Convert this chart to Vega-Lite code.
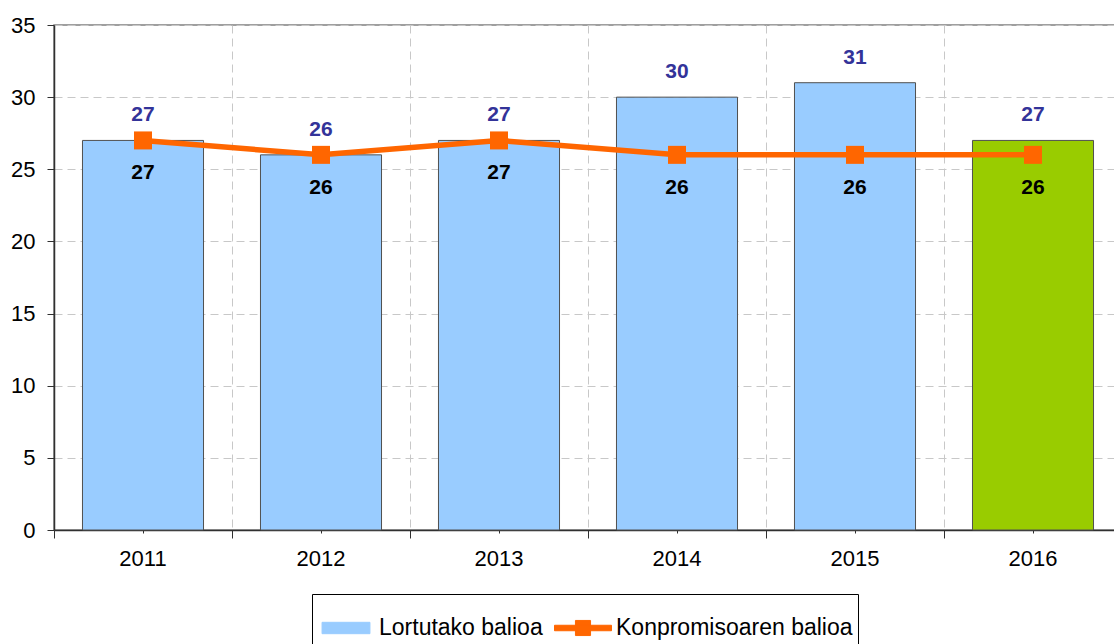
{
  "$schema": "https://vega.github.io/schema/vega-lite/v6.json",
  "autosize": "none",
  "width": 1068,
  "height": 505,
  "padding": {"left": 54, "top": 25, "right": 0, "bottom": 114},
  "background": "white",
  "config": {
    "view": {"stroke": "#808080", "strokeWidth": 1.5},
    "font": "Liberation Sans"
  },
  "data": {
    "values": [
      {"year": "2011", "actual": 27, "target": 27},
      {"year": "2012", "actual": 26, "target": 26},
      {"year": "2013", "actual": 27, "target": 27},
      {"year": "2014", "actual": 30, "target": 26},
      {"year": "2015", "actual": 31, "target": 26},
      {"year": "2016", "actual": 27, "target": 26}
    ]
  },
  "resolve": {"axis": {"x": "independent"}},
  "layer": [
    {
      "mark": {"type": "bar", "width": {"band": 0.68}, "stroke": "#505050", "strokeWidth": 1},
      "encoding": {
        "x": {
          "field": "year", "type": "ordinal",
          "scale": {"type": "band", "paddingInner": 0, "paddingOuter": 0},
          "axis": {"orient": "bottom", "title": null, "labelAngle": 0, "labelFont": "Liberation Sans", "labelFontSize": 22, "labelColor": "#000000", "tickSize": 3, "labelPadding": 15, "tickColor": "#303030", "domainColor": "#303030", "domainWidth": 1.5, "grid": false}
        },
        "y": {
          "field": "actual", "type": "quantitative",
          "scale": {"domain": [0, 35], "nice": false},
          "axis": {"title": null, "values": [0, 5, 10, 15, 20, 25, 30, 35], "labelFont": "Liberation Sans", "labelFontSize": 22, "labelColor": "#000000", "tickSize": 7, "labelPadding": 12, "tickColor": "#303030", "domainColor": "#303030", "domainWidth": 1.5, "grid": true, "gridColor": "#c8c8c8", "gridDash": [8, 5], "gridWidth": 1}
        },
        "color": {
          "condition": {"test": "datum.year === '2016'", "value": "#99CC00"},
          "datum": "Lortutako balioa", "type": "nominal",
          "scale": {"domain": ["Lortutako balioa", "Konpromisoaren balioa"], "range": ["#99CCFF", "#FF6600"]},
          "legend": {
            "orient": "none", "legendX": 258, "legendY": 569, "direction": "horizontal",
            "title": null, "strokeColor": "#000000", "fillColor": "white", "padding": 5,
            "labelFont": "Liberation Sans", "labelFontSize": 23, "labelColor": "#000000", "labelLimit": 500,
            "labelOffset": 4, "columnPadding": 9, "symbolSize": 3249,
            "encode": {
              "symbols": {
                "update": {
                  "shape": {"signal": "datum.value === 'Lortutako balioa' ? 'M-0.84,-0.2H0.84V0.2H-0.84Z' : 'M-1,-0.096H1V0.096H-1Z M-0.265,-0.265H0.265V0.265H-0.265Z'"},
                  "fill": {"signal": "datum.value === 'Lortutako balioa' ? '#99CCFF' : '#FF6600'"},
                  "stroke": {"signal": "datum.value === 'Lortutako balioa' ? '#505050' : '#FF6600'"},
                  "strokeWidth": {"value": 1},
                  "strokeOpacity": {"value": 1},
                  "opacity": {"value": 1},
                  "fillOpacity": {"value": 1}
                }
              }
            }
          }
        }
      }
    },
    {
      "mark": {"type": "line", "strokeWidth": 5.5, "point": {"shape": "square", "size": 324, "filled": true, "opacity": 1}},
      "encoding": {
        "x": {
          "field": "year", "type": "ordinal",
          "axis": {"orient": "bottom", "title": null, "labels": false, "bandPosition": 0, "tickSize": 8, "tickColor": "#303030", "domain": false, "grid": true, "gridColor": "#c8c8c8", "gridDash": [8, 5], "gridWidth": 1}
        },
        "y": {"field": "target", "type": "quantitative"},
        "color": {
          "datum": "Konpromisoaren balioa", "type": "nominal",
          "legend": {
            "orient": "none", "legendX": 258, "legendY": 569, "direction": "horizontal",
            "title": null, "strokeColor": "#000000", "fillColor": "white", "padding": 5,
            "labelFont": "Liberation Sans", "labelFontSize": 23, "labelColor": "#000000", "labelLimit": 500,
            "labelOffset": 4, "columnPadding": 9, "symbolSize": 3249,
            "encode": {
              "symbols": {
                "update": {
                  "shape": {"signal": "datum.value === 'Lortutako balioa' ? 'M-0.84,-0.2H0.84V0.2H-0.84Z' : 'M-1,-0.096H1V0.096H-1Z M-0.265,-0.265H0.265V0.265H-0.265Z'"},
                  "fill": {"signal": "datum.value === 'Lortutako balioa' ? '#99CCFF' : '#FF6600'"},
                  "stroke": {"signal": "datum.value === 'Lortutako balioa' ? '#505050' : '#FF6600'"},
                  "strokeWidth": {"value": 1},
                  "strokeOpacity": {"value": 1},
                  "opacity": {"value": 1},
                  "fillOpacity": {"value": 1}
                }
              }
            }
          }
        }
      }
    },
    {
      "mark": {"type": "text", "font": "Liberation Sans", "fontSize": 21, "fontWeight": "bold", "color": "#333399", "baseline": "middle", "dy": -25},
      "encoding": {
        "x": {"field": "year", "type": "ordinal", "axis": null},
        "y": {"field": "actual", "type": "quantitative"},
        "text": {"field": "actual", "type": "quantitative"}
      }
    },
    {
      "mark": {"type": "text", "font": "Liberation Sans", "fontSize": 21, "fontWeight": "bold", "color": "#000000", "baseline": "middle", "dy": 33},
      "encoding": {
        "x": {"field": "year", "type": "ordinal", "axis": null},
        "y": {"field": "target", "type": "quantitative"},
        "text": {"field": "target", "type": "quantitative"}
      }
    }
  ]
}
